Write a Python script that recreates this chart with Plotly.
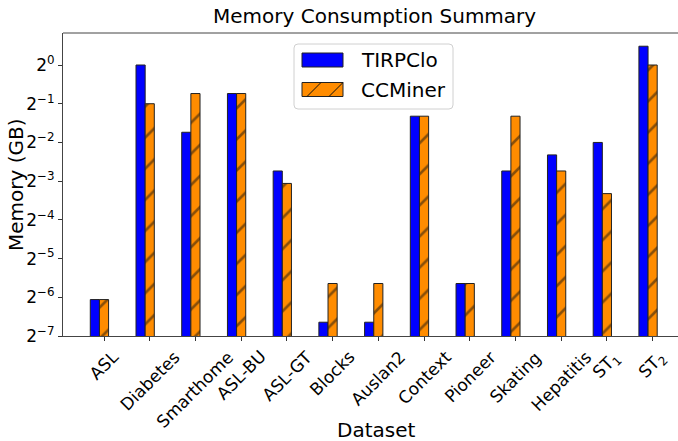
import math
import plotly.graph_objects as go

# Memory usage (GB) per dataset for the two miners
categories = ["ASL", "Diabetes", "Smarthome", "ASL-BU", "ASL-GT", "Blocks", "Auslan2",
              "Context", "Pioneer", "Skating", "Hepatitis", "ST<sub>1</sub>", "ST<sub>2</sub>"]
tirpclo = [0.015, 1.0, 0.3, 0.6, 0.15, 0.01, 0.01, 0.4, 0.02, 0.15, 0.2, 0.25, 1.4]
ccminer = [0.015, 0.5, 0.6, 0.6, 0.12, 0.02, 0.02, 0.4, 0.02, 0.4, 0.15, 0.1, 1.0]
y_powers = [-7, -6, -5, -4, -3, -2, -1, 0]

W, H = 678, 441
L, R, T, B = 63, 0, 33, 105
PW, PH = W - L - R, H - T - B
FONT = "DejaVu Sans"
BAR_W = 0.2
BLUE, ORANGE = "#0000ff", "#ff8c00"


def px(x):
    return (x - L) / PW


def py(y):
    return (H - B - y) / PH


idx = list(range(len(categories)))

fig = go.Figure()
fig.add_trace(go.Bar(
    x=[i - BAR_W for i in idx], y=tirpclo, width=BAR_W, name="TIRPClo",
    marker=dict(color=BLUE, line=dict(color="#222", width=1)),
))
fig.add_trace(go.Bar(
    x=idx, y=ccminer, width=BAR_W, name="CCMiner",
    marker=dict(color=ORANGE, line=dict(color="#222", width=1),
                pattern=dict(shape="/", fgcolor="#111", bgcolor=ORANGE,
                             size=22, solidity=0.12, fillmode="overlay")),
))

lo, hi = -7 * math.log10(2), 0.827 * math.log10(2)

fig.update_layout(
    width=W, height=H, margin=dict(l=L, r=R, t=T, b=B),
    paper_bgcolor="white", plot_bgcolor="white",
    showlegend=False, barmode="overlay",
    font=dict(family=FONT, color="black"),
    xaxis=dict(range=[-0.897, 12.555], tickvals=idx, ticks="outside", ticklen=4,
               tickcolor="#333", showticklabels=False, showgrid=False, zeroline=False,
               showline=True, linecolor="#444", linewidth=1),
    yaxis=dict(type="log", range=[lo, hi], tickvals=[2 ** k for k in y_powers],
               ticktext=[("2<sup>%s</sup>" % (str(k).replace("-", "\u2212"))) for k in y_powers],
               ticks="outside", ticklen=4, tickcolor="#333", tickfont=dict(size=17),
               showgrid=False, zeroline=False, showline=True, linecolor="#444", linewidth=1),
)

annotations = []
# category labels, rotated and centred under each tick
for i, c in enumerate(categories):
    annotations.append(dict(x=i, y=0, xref="x", yref="paper", text=c, showarrow=False,
                            textangle=-45, xanchor="center", yanchor="top", yshift=-8,
                            font=dict(size=17, family=FONT)))
annotations += [
    dict(x=px(374), y=py(16.5), xref="paper", yref="paper", text="Memory Consumption Summary",
         showarrow=False, xanchor="center", yanchor="middle", font=dict(size=20, family=FONT)),
    dict(x=px(16), y=py(185), xref="paper", yref="paper", text="Memory (GB)", textangle=-90,
         showarrow=False, xanchor="center", yanchor="middle", font=dict(size=20, family=FONT)),
    dict(x=px(376), y=py(430), xref="paper", yref="paper", text="Dataset",
         showarrow=False, xanchor="center", yanchor="middle", font=dict(size=20, family=FONT)),
    dict(x=px(359), y=py(60), xref="paper", yref="paper", text="TIRPClo",
         showarrow=False, xanchor="left", yanchor="middle", font=dict(size=20, family=FONT)),
    dict(x=px(359), y=py(89.5), xref="paper", yref="paper", text="CCMiner",
         showarrow=False, xanchor="left", yanchor="middle", font=dict(size=20, family=FONT)),
]
fig.update_layout(annotations=annotations)

shapes = []
# top spine
shapes.append(dict(type="line", xref="paper", yref="paper", x0=0, x1=1, y0=1, y1=1,
                   line=dict(color="#444", width=1)))
# legend frame with rounded corners
bx0, bx1, by0, by1, r = 294, 453, 44, 109, 4
path = (f"M {px(bx0 + r)},{py(by0)} L {px(bx1 - r)},{py(by0)} Q {px(bx1)},{py(by0)} {px(bx1)},{py(by0 + r)} "
        f"L {px(bx1)},{py(by1 - r)} Q {px(bx1)},{py(by1)} {px(bx1 - r)},{py(by1)} "
        f"L {px(bx0 + r)},{py(by1)} Q {px(bx0)},{py(by1)} {px(bx0)},{py(by1 - r)} "
        f"L {px(bx0)},{py(by0 + r)} Q {px(bx0)},{py(by0)} {px(bx0 + r)},{py(by0)} Z")
shapes.append(dict(type="path", xref="paper", yref="paper", path=path,
                   fillcolor="rgba(255,255,255,0.8)", line=dict(color="#d0d0d0", width=1)))
# legend patches
shapes.append(dict(type="rect", xref="paper", yref="paper", x0=px(302), x1=px(343),
                   y0=py(53), y1=py(67), fillcolor=BLUE, line=dict(color="#222", width=1)))
shapes.append(dict(type="rect", xref="paper", yref="paper", x0=px(302), x1=px(343),
                   y0=py(82.5), y1=py(96.5), fillcolor=ORANGE, line=dict(color="#222", width=1)))
for hx in (307, 329):
    shapes.append(dict(type="line", xref="paper", yref="paper", x0=px(hx), y0=py(96.5),
                       x1=px(min(hx + 14, 343)), y1=py(96.5 - (min(hx + 14, 343) - hx)),
                       line=dict(color="#111", width=1)))
fig.update_layout(shapes=shapes)

fig.write_html("out.html")
